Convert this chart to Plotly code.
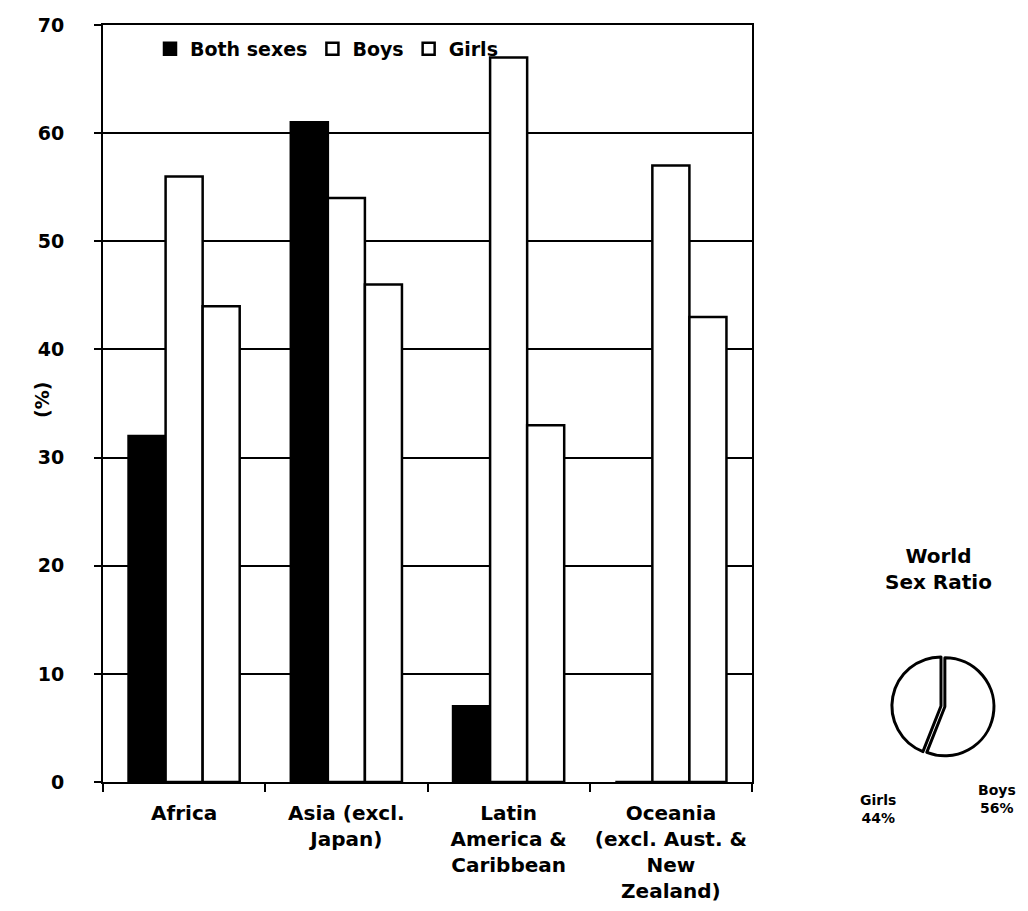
import plotly.graph_objects as go

# Regional shares (%) by sex
regions = [
    "Africa",
    "Asia (excl.<br>Japan)",
    "Latin<br>America &<br>Caribbean",
    "Oceania<br>(excl. Aust. &<br>New<br>Zealand)",
]
both_sexes = [32, 61, 7, 0]
boys = [56, 54, 67, 57]
girls = [44, 46, 33, 43]

# World sex ratio
pie_labels = ["Boys", "Girls"]
pie_values = [56, 44]

y_ticks = [0, 10, 20, 30, 40, 50, 60, 70]

W, H = 1028, 911
FONT = "DejaVu Sans"


def px(x):
    return x / W


def py(y):
    return 1 - y / H


def bold(size):
    return dict(family=FONT, size=size, color="black", weight="bold")


fig = go.Figure()

bar_line = dict(color="black", width=2.5)
fig.add_trace(go.Bar(x=regions, y=both_sexes, name="Both sexes",
                     marker=dict(color="black", line=bar_line)))
fig.add_trace(go.Bar(x=regions, y=boys, name="Boys",
                     marker=dict(color="white", line=bar_line)))
fig.add_trace(go.Bar(x=regions, y=girls, name="Girls",
                     marker=dict(color="white", line=bar_line)))

# Small pie, boys slice pulled out
pie_cx, pie_cy, pie_r = 941, 706, 53
fig.add_trace(go.Pie(
    labels=pie_labels, values=pie_values, sort=False,
    direction="clockwise", rotation=0, pull=[0.08, 0],
    marker=dict(colors=["white", "white"], line=dict(color="black", width=3)),
    textinfo="none", hoverinfo="label+percent", showlegend=False,
    domain=dict(x=[px(pie_cx - pie_r), px(pie_cx + pie_r)],
                y=[py(pie_cy + pie_r), py(pie_cy - pie_r)]),
))

fig.update_layout(
    width=W, height=H,
    margin=dict(l=0, r=0, t=0, b=0),
    paper_bgcolor="white", plot_bgcolor="white",
    barmode="group", bargap=0.315, bargroupgap=0,
    font=bold(18),
    legend=dict(orientation="h", x=px(150), y=py(30), xanchor="left", yanchor="top",
                font=bold(19), bgcolor="rgba(0,0,0,0)", itemwidth=30,
                tracegroupgap=0),
    xaxis=dict(domain=[px(103), px(752)], automargin=False,
               showline=True, linecolor="black", linewidth=2, mirror=True,
               ticks="outside", tickson="boundaries", ticklen=8, tickcolor="black",
               tickwidth=1.5, ticklabelstandoff=12, tickfont=bold(20),
               showgrid=False),
    yaxis=dict(domain=[py(782), py(25)], automargin=False, range=[0, 70],
               tickvals=y_ticks, showline=True, linecolor="black", linewidth=2,
               mirror=True, ticks="outside", ticklen=7, tickcolor="black", tickwidth=1.5,
               ticklabelstandoff=26, tickfont=bold(19),
               showgrid=True, gridcolor="black", gridwidth=1.5, zeroline=False),
)

annotations = [
    dict(text="(%)", x=px(42), y=py(400), textangle=-90, font=bold(19)),
    dict(text="World<br>Sex Ratio", x=px(938), y=py(569), font=bold(20)),
]
# Pie labels built from the pie data
total = sum(pie_values)
label_pos = {"Boys": (997, 799), "Girls": (878, 809)}
for lab, val in zip(pie_labels, pie_values):
    lx, ly = label_pos[lab]
    annotations.append(dict(
        text=f"{lab}<br>{round(100 * val / total)}%", x=px(lx), y=py(ly),
        font=bold(14)))
for a in annotations:
    a.update(xref="paper", yref="paper", showarrow=False,
             xanchor="center", yanchor="middle")
fig.update_layout(annotations=annotations)

fig.write_html("out.html")
